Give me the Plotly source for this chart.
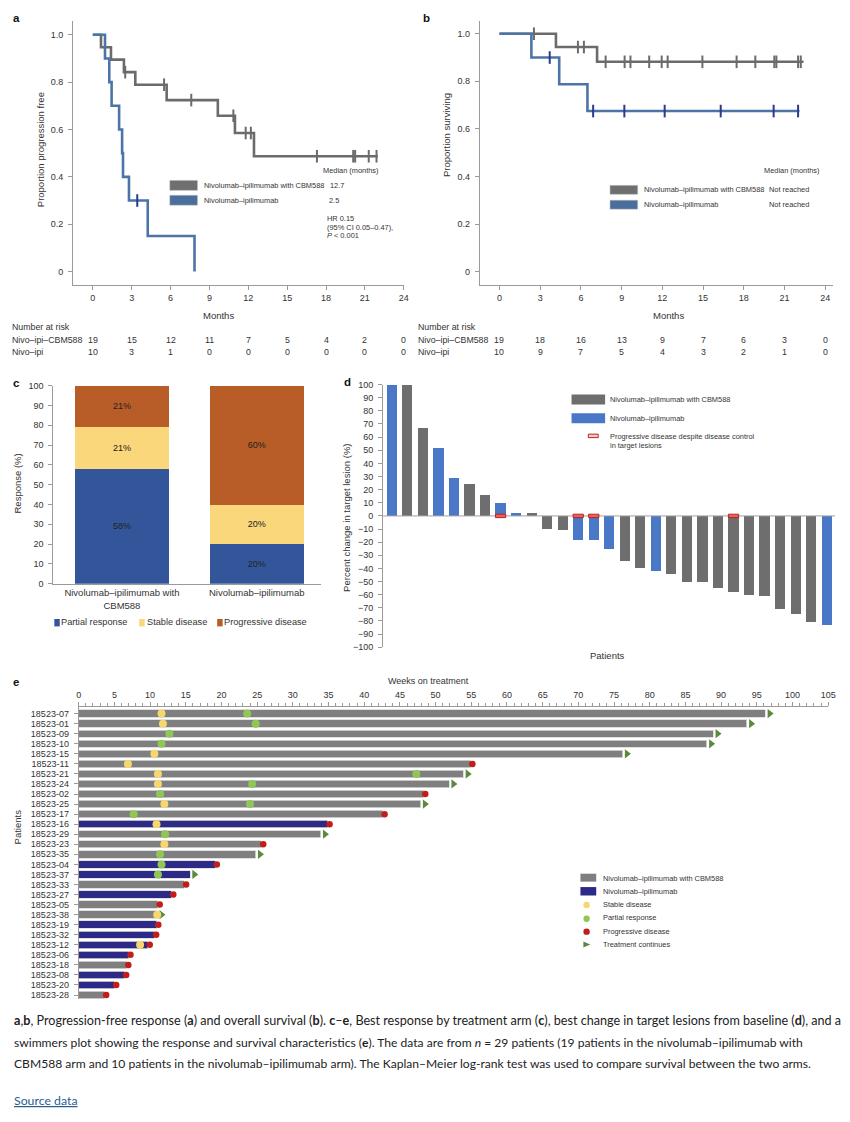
import numpy as np
import plotly.graph_objects as go

W, H = 850, 1122
def X(p): return p / W
def Y(p): return 1 - p / H

FONT = "Liberation Sans, Arial, Helvetica, sans-serif"
TXT = "#333333"
AX = "#9a9a9a"

# ---------------- DATA ----------------
# Panel a: progression-free survival (months)
a_cbm_t = [0, 0.63, 1.4, 2.4, 3.28, 5.7, 9.65, 10.97, 12.44, 22.0]
a_cbm_s = [1.0, 0.947, 0.895, 0.842, 0.789, 0.724, 0.658, 0.585, 0.487, 0.487]
a_cbm_cens = [2.5, 5.5, 7.6, 10.85, 11.8, 12.2, 17.3, 20.1, 20.25, 21.3, 21.9]
a_niv_t = [0, 0.94, 1.27, 1.45, 2.03, 2.26, 2.33, 2.79, 4.24, 7.85]
a_niv_s = [1.0, 0.9, 0.8, 0.7, 0.6, 0.5, 0.4, 0.3, 0.15, 0.0]
a_niv_cens = [3.43]
a_risk_cbm = [19, 15, 12, 11, 7, 5, 4, 2, 0]
a_risk_niv = [10, 3, 1, 0, 0, 0, 0, 0, 0]

# Panel b: overall survival (months)
b_cbm_t = [0, 4.16, 7.19, 22.4]
b_cbm_s = [1.0, 0.944, 0.882, 0.882]
b_cbm_cens = [2.54, 5.78, 6.22, 7.82, 9.22, 9.65, 11.03, 11.95, 12.39, 14.95,
              17.47, 18.85, 20.25, 20.4, 22.0, 22.2]
b_niv_t = [0, 2.35, 4.4, 6.48, 22.1]
b_niv_s = [1.0, 0.9, 0.788, 0.675, 0.675]
b_niv_cens = [3.7, 6.9, 9.2, 12.17, 16.3, 20.2, 22.0]
b_risk_cbm = [19, 18, 16, 13, 9, 7, 6, 3, 0]
b_risk_niv = [10, 9, 7, 5, 4, 3, 2, 1, 0]

months_ticks = [0, 3, 6, 9, 12, 15, 18, 21, 24]
prop_ticks = [0, 0.2, 0.4, 0.6, 0.8, 1.0]
prop_ticktext = ["0", "0.2", "0.4", "0.6", "0.8", "1.0"]

# Panel c: best response (%)
c_arms = ["Nivolumab–ipilimumab with<br>CBM588", "Nivolumab–ipilimumab"]
c_partial = [58, 20]
c_stable = [21, 20]
c_progressive = [21, 60]

# Panel d: waterfall (% change in target lesion)
d_values = [100, 100, 67, 52, 29, 24, 16, 10, 2.5, 2, -10, -11, -18, -18.5, -25,
            -34, -40, -42, -44, -50, -50, -55, -58, -60, -61, -71, -75, -81, -83]
d_arm = ["N", "C", "C", "N", "N", "C", "C", "N", "N", "C", "C", "C", "N", "N", "N",
         "C", "C", "N", "C", "C", "C", "C", "C", "C", "C", "C", "C", "C", "N"]
d_pd_despite = [7, 12, 13, 22]  # patient positions (0-based)

# Panel e: swimmers plot (weeks)
e_patients = ["18523-07", "18523-01", "18523-09", "18523-10", "18523-15", "18523-11",
              "18523-21", "18523-24", "18523-02", "18523-25", "18523-17", "18523-16",
              "18523-29", "18523-23", "18523-35", "18523-04", "18523-37", "18523-33",
              "18523-27", "18523-05", "18523-38", "18523-19", "18523-32", "18523-12",
              "18523-06", "18523-18", "18523-08", "18523-20", "18523-28"]
e_weeks = [96.2, 93.6, 88.9, 88.0, 76.2, 54.9, 53.9, 51.9, 48.3, 47.9, 42.6, 34.9,
           33.9, 25.6, 24.8, 19.1, 15.6, 14.8, 13.0, 11.1, 11.0, 10.9, 10.6, 9.7,
           7.0, 6.7, 6.4, 5.0, 3.6]
e_arm = ["C", "C", "C", "C", "C", "C", "C", "C", "C", "C", "C", "N",
         "C", "C", "C", "N", "N", "C", "N", "C", "C", "N", "N", "N",
         "N", "C", "N", "N", "C"]
e_end = ["cont", "cont", "cont", "cont", "cont", "pd", "cont", "cont", "pd", "cont", "pd", "pd",
         "cont", "pd", "cont", "pd", "cont", "pd", "pd", "pd", "cont", "pd", "pd", "pd",
         "pd", "pd", "pd", "pd", "pd"]
e_stable_pt = [0, 1, 4, 5, 6, 7, 9, 11, 13, 20, 23]
e_stable_wk = [11.6, 11.8, 10.6, 6.9, 11.1, 11.1, 12.0, 10.9, 12.0, 11.0, 8.6]
e_partial_pt = [0, 1, 2, 3, 6, 7, 8, 9, 10, 12, 14, 15, 16]
e_partial_wk = [23.6, 24.8, 12.7, 11.6, 47.3, 24.3, 11.4, 24.0, 7.7, 12.1, 11.4, 11.6, 11.1]
weeks_ticks = list(range(0, 106, 5))

# ---------------- FIGURE ----------------
fig = go.Figure()

GREY_KM = "#6b6b6b"
BLUE_KM = "#4d74a6"
NAVY_MARK = "#2a3a8c"

def step_at(t, s, tc):
    idx = np.searchsorted(np.array(t), np.array(tc), side="right") - 1
    return [s[i] for i in idx]

def km(t, s, cens, col, mcol, xa, ya):
    fig.add_trace(go.Scatter(x=t, y=s, mode="lines", line=dict(color=col, width=2.6, shape="hv"),
                             xaxis=xa, yaxis=ya, showlegend=False, hoverinfo="skip"))
    fig.add_trace(go.Scatter(x=cens, y=step_at(t, s, cens), mode="markers",
                             marker=dict(symbol="line-ns", size=9, line=dict(color=mcol, width=2)),
                             xaxis=xa, yaxis=ya, showlegend=False, hoverinfo="skip", cliponaxis=False))

km(a_cbm_t, a_cbm_s, a_cbm_cens, GREY_KM, GREY_KM, "x", "y")
km(a_niv_t, a_niv_s, a_niv_cens, BLUE_KM, NAVY_MARK, "x", "y")
km(b_cbm_t, b_cbm_s, b_cbm_cens, GREY_KM, GREY_KM, "x2", "y2")
km(b_niv_t, b_niv_s, b_niv_cens, BLUE_KM, NAVY_MARK, "x2", "y2")

# Panel c
C_PR, C_SD, C_PD = "#33569a", "#f9d77a", "#b85c28"
for vals, col in [(c_partial, C_PR), (c_stable, C_SD), (c_progressive, C_PD)]:
    fig.add_trace(go.Bar(x=[0, 1], y=vals, width=0.696, marker=dict(color=col, line=dict(width=0)),
                         text=[f"{v}%" for v in vals], textposition="inside", insidetextanchor="middle",
                         textfont=dict(family=FONT, size=9, color="#222"),
                         xaxis="x3", yaxis="y3", showlegend=False, hoverinfo="skip"))

# Panel d
D_GREY, D_BLUE = "#6e6e6e", "#4a78c6"
idx_c = [i for i, a in enumerate(d_arm) if a == "C"]
idx_n = [i for i, a in enumerate(d_arm) if a == "N"]
fig.add_trace(go.Bar(x=idx_c, y=[d_values[i] for i in idx_c], width=0.655, marker=dict(color=D_GREY, line=dict(width=0)),
                     xaxis="x4", yaxis="y4", showlegend=False, hoverinfo="skip"))
fig.add_trace(go.Bar(x=idx_n, y=[d_values[i] for i in idx_n], width=0.655, marker=dict(color=D_BLUE, line=dict(width=0)),
                     xaxis="x4", yaxis="y4", showlegend=False, hoverinfo="skip"))

shapes = []
shapes.append(dict(type="line", xref="x4", yref="y4", x0=-0.57, x1=28.54, y0=0, y1=0,
                   line=dict(color="#a0a0a0", width=1), layer="above"))
for i in d_pd_despite:
    shapes.append(dict(type="rect", xref="x4", yref="y4", x0=i - 0.33, x1=i + 0.33, y0=-1.3, y1=1.3,
                       fillcolor="#e0645e", line=dict(color="#c0221e", width=1), layer="above"))

# Panel e
E_GREY, E_NAVY = "#7f7f7f", "#2c2a86"
for arm, col in [("C", E_GREY), ("N", E_NAVY)]:
    ii = [i for i, a in enumerate(e_arm) if a == arm]
    fig.add_trace(go.Bar(y=ii, x=[e_weeks[i] for i in ii], orientation="h", width=0.74,
                         marker=dict(color=col, line=dict(color="#d8d8d8", width=0.8)),
                         xaxis="x5", yaxis="y5", showlegend=False, hoverinfo="skip"))
pd_i = [i for i, e in enumerate(e_end) if e == "pd"]
ct_i = [i for i, e in enumerate(e_end) if e == "cont"]
fig.add_trace(go.Scatter(x=[e_weeks[i] + 0.6 for i in ct_i], y=ct_i, mode="markers",
                         marker=dict(symbol="triangle-right", size=8, color="#5b8a3e"),
                         xaxis="x5", yaxis="y5", showlegend=False, hoverinfo="skip", cliponaxis=False))
fig.add_trace(go.Scatter(x=e_stable_wk, y=e_stable_pt, mode="markers",
                         marker=dict(symbol="circle", size=8, color="#f8d66f"),
                         xaxis="x5", yaxis="y5", showlegend=False, hoverinfo="skip", cliponaxis=False))
fig.add_trace(go.Scatter(x=e_partial_wk, y=e_partial_pt, mode="markers",
                         marker=dict(symbol="circle", size=8, color="#90c656"),
                         xaxis="x5", yaxis="y5", showlegend=False, hoverinfo="skip", cliponaxis=False))
fig.add_trace(go.Scatter(x=[e_weeks[i] + 0.25 for i in pd_i], y=pd_i, mode="markers",
                         marker=dict(symbol="circle", size=6.5, color="#c21d1a"),
                         xaxis="x5", yaxis="y5", showlegend=False, hoverinfo="skip", cliponaxis=False))

# ---------------- AXES ----------------
tf = dict(family=FONT, size=9, color=TXT)
common = dict(showline=True, linecolor=AX, linewidth=1, showgrid=False, zeroline=False,
              ticks="outside", tickcolor=AX, ticklen=4, tickfont=tf)

fig.update_layout(
    xaxis=dict(domain=[X(71), X(406.5)], range=[-1.524, 24.04], tickvals=months_ticks, anchor="y", **common),
    yaxis=dict(domain=[Y(283), Y(16)], range=[-0.0586, 1.0586], tickvals=prop_ticks, ticktext=prop_ticktext,
               anchor="x", **common),
    xaxis2=dict(domain=[X(483), X(840.5)], range=[-1.4545, 24.545], tickvals=months_ticks, anchor="y2", **common),
    yaxis2=dict(domain=[Y(283), Y(16)], range=[-0.0583, 1.0542], tickvals=prop_ticks, ticktext=prop_ticktext,
                anchor="x2", **common),
    xaxis3=dict(domain=[X(51), X(322)], range=[-0.509, 1.476], tickvals=[0, 1], ticktext=c_arms, anchor="y3",
                showline=True, linecolor=AX, linewidth=1, showgrid=False, zeroline=False, ticks="",
                tickfont=dict(family=FONT, size=9.5, color=TXT)),
    yaxis3=dict(domain=[Y(584), Y(384)], range=[0, 100], dtick=10, anchor="x3", **common),
    xaxis4=dict(domain=[X(385), X(843)], range=[-0.57, 28.54], anchor="y4", visible=False),
    yaxis4=dict(domain=[Y(648), Y(383)], range=[-100, 100], dtick=10, anchor="x4", **common),
    xaxis5=dict(domain=[X(76.7), X(836)], range=[0, 105], tickvals=weeks_ticks, anchor="y5", side="top",
                minor=dict(dtick=1, ticks="outside", ticklen=2.5, tickcolor=AX), **common),
    yaxis5=dict(domain=[Y(1003), Y(708)], range=[28.4, -0.69], tickvals=list(range(len(e_patients))),
                ticktext=e_patients, anchor="x5", **common),
)
fig.update_layout(barmode="stack", width=W, height=H, margin=dict(l=0, r=0, t=0, b=0),
                  paper_bgcolor="white", plot_bgcolor="rgba(0,0,0,0)", showlegend=False,
                  font=dict(family=FONT, color=TXT))
fig.update_yaxes(ticklabelstandoff=3)

# ---------------- ANNOTATIONS ----------------
ann = []
def T(x, y, text, size=9, xanchor="left", color=TXT, angle=0, xref="paper", family=FONT):
    ann.append(dict(x=X(x) if xref == "paper" else x, y=Y(y), xref=xref, yref="paper", text=text,
                    showarrow=False, xanchor=xanchor, yanchor="middle", textangle=angle,
                    borderpad=0, borderwidth=0,
                    font=dict(family=family, size=size, color=color)))

# panel letters
for lx, ly, l in [(12, 15, "a"), (427, 15, "b"), (12, 383, "c"), (347, 382, "d"), (12, 685, "e")]:
    T(lx - 2, ly - 2, f"<b>{l}</b>", size=11.5, color="#111")

# panel a/b titles
T(38, 146, "Proportion progression free", size=9.5, xanchor="center", angle=-90)
T(450, 131, "Proportion surviving", size=9.5, xanchor="center", angle=-90)
T(218, 313, "Months", size=9.5, xanchor="center")
T(674, 313, "Months", size=9.5, xanchor="center")

# number at risk
RS = 8.8
for x0, xa, r1, r2 in [(9, "x", a_risk_cbm, a_risk_niv), (420, "x2", b_risk_cbm, b_risk_niv)]:
    T(x0, 325, "Number at risk", size=RS)
    T(x0, 338, "Nivo–ipi–CBM588", size=RS)
    T(x0, 350, "Nivo–ipi", size=RS)
    for m, v1, v2 in zip(months_ticks, r1, r2):
        ann.append(dict(x=m, y=Y(338), xref=xa, yref="paper", text=str(v1), showarrow=False,
                        xanchor="center", yanchor="middle", borderpad=0,
                        font=dict(family=FONT, size=RS, color=TXT)))
        ann.append(dict(x=m, y=Y(350), xref=xa, yref="paper", text=str(v2), showarrow=False,
                        xanchor="center", yanchor="middle", borderpad=0,
                        font=dict(family=FONT, size=RS, color=TXT)))

# legends a
LG = 7.4
shapes += [dict(type="rect", xref="paper", yref="paper", x0=X(169), x1=X(197), y0=Y(187), y1=Y(177),
                fillcolor="#6f6f6f", line=dict(color="#bbbbbb", width=0.5)),
           dict(type="rect", xref="paper", yref="paper", x0=X(169), x1=X(197), y0=Y(202), y1=Y(192),
                fillcolor="#4b6f9c", line=dict(color="#bbbbbb", width=0.5))]
T(352, 167, "Median (months)", size=LG, xanchor="center")
T(204, 182, "Nivolumab–ipilimumab with CBM588", size=LG)
T(204, 197, "Nivolumab–ipilimumab", size=LG)
T(331, 182, "12.7", size=LG)
T(330, 197, "2.5", size=LG)
T(328, 215, "HR 0.15", size=LG)
T(328, 224, "(95% CI 0.05–0.47),", size=LG)
T(328, 233, "<i>P</i> < 0.001", size=LG)
# legends b
shapes += [dict(type="rect", xref="paper", yref="paper", x0=X(615), x1=X(643), y0=Y(191), y1=Y(182),
                fillcolor="#6f6f6f", line=dict(color="#bbbbbb", width=0.5)),
           dict(type="rect", xref="paper", yref="paper", x0=X(615), x1=X(643), y0=Y(206), y1=Y(197),
                fillcolor="#4b6f9c", line=dict(color="#bbbbbb", width=0.5))]
T(799, 167, "Median (months)", size=LG, xanchor="center")
T(649, 186, "Nivolumab–ipilimumab with CBM588", size=LG)
T(649, 201, "Nivolumab–ipilimumab", size=LG)
T(776, 186, "Not reached", size=LG)
T(776, 201, "Not reached", size=LG)

# panel c
T(15, 483, "Response (%)", size=9.5, xanchor="center", angle=-90)
for sx, tx, col, lab in [(52, 59, C_PR, "Partial response"), (138, 146, C_SD, "Stable disease"),
                         (217, 224, C_PD, "Progressive disease")]:
    shapes.append(dict(type="rect", xref="paper", yref="paper", x0=X(sx), x1=X(sx + 5.5), y0=Y(627), y1=Y(619.5),
                       fillcolor=col, line=dict(width=0)))
    T(tx, 623, lab, size=9.2)

# panel d
T(348, 517, "Percent change in target lesion (%)", size=9.5, xanchor="center", angle=-90)
T(612, 656, "Patients", size=9.5, xanchor="center")
shapes += [dict(type="rect", xref="paper", yref="paper", x0=X(576), x1=X(610), y0=Y(403), y1=Y(393),
                fillcolor=D_GREY, line=dict(width=0)),
           dict(type="rect", xref="paper", yref="paper", x0=X(576), x1=X(610), y0=Y(422), y1=Y(412),
                fillcolor=D_BLUE, line=dict(width=0)),
           dict(type="rect", xref="paper", yref="paper", x0=X(593), x1=X(603), y0=Y(436.5), y1=Y(433),
                fillcolor="#f4d0cc", line=dict(color="#c0221e", width=1))]
T(615, 398, "Nivolumab–ipilimumab with CBM588", size=LG)
T(615, 417, "Nivolumab–ipilimumab", size=LG)
T(615, 435, "Progressive disease despite disease control", size=LG)
T(615, 444, "in target lesions", size=LG)

# panel e
T(431, 682, "Weeks on treatment", size=9, xanchor="center")
T(15, 829, "Patients", size=9.5, xanchor="center", angle=-90)
shapes += [dict(type="rect", xref="paper", yref="paper", x0=X(585), x1=X(601), y0=Y(884.5), y1=Y(876.5),
                fillcolor=E_GREY, line=dict(width=0)),
           dict(type="rect", xref="paper", yref="paper", x0=X(585), x1=X(601), y0=Y(898.5), y1=Y(890),
                fillcolor=E_NAVY, line=dict(width=0))]
for cy, col in [(908, "#f8d66f"), (922, "#90c656"), (935, "#c21d1a")]:
    shapes.append(dict(type="circle", xref="paper", yref="paper", x0=X(588), x1=X(594.5), y0=Y(cy + 3.2),
                       y1=Y(cy - 3.2), fillcolor=col, line=dict(width=0)))
shapes.append(dict(type="path", xref="paper", yref="paper",
                   path=f"M {X(588)} {Y(945)} L {X(595)} {Y(948)} L {X(588)} {Y(951)} Z",
                   fillcolor="#5b8a3e", line=dict(width=0)))
for ty, lab in [(881, "Nivolumab–ipilimumab with CBM588"), (894, "Nivolumab–ipilimumab"),
                (908, "Stable disease"), (921, "Partial response"), (935, "Progressive disease"),
                (948, "Treatment continues")]:
    T(608, ty, lab, size=LG)

# caption
CAP = "Lato, Roboto, sans-serif"
cap1 = ("<b>a</b>,<b>b</b>, Progression-free response (<b>a</b>) and overall survival (<b>b</b>). "
        "<b>c</b>–<b>e</b>, Best response by treatment arm (<b>c</b>), best change in target lesions "
        "from baseline (<b>d</b>), and a")
cap2 = ("swimmers plot showing the response and survival characteristics (<b>e</b>). The data are from "
        "<i>n</i> = 29 patients (19 patients in the nivolumab–ipilimumab with")
cap3 = ("CBM588 arm and 10 patients in the nivolumab–ipilimumab arm). The Kaplan–Meier log-rank test "
        "was used to compare survival between the two arms.")
T(11, 1025, cap1, size=12.6, family=CAP, color="#222")
T(11, 1047, cap2, size=12.1, family=CAP, color="#222")
T(11, 1068, cap3, size=12.1, family=CAP, color="#222")
T(11, 1105, "<u>Source data</u>", size=12.3, family=CAP, color="#2a5d8f")

fig.update_layout(annotations=ann, shapes=shapes)
fig.write_html("out.html", config={"displayModeBar": False},
               post_script="document.body.style.margin='0';document.body.style.overflow='hidden';")
